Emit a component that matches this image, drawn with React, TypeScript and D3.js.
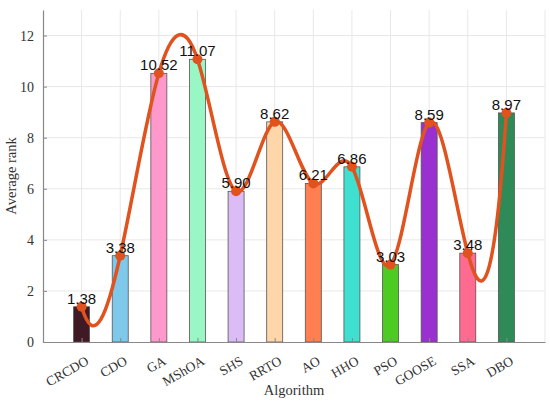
import { useEffect, useRef } from 'react';
import * as d3 from 'd3';

const algorithms = ['CRCDO', 'CDO', 'GA', 'MShOA', 'SHS', 'RRTO', 'AO', 'HHO', 'PSO', 'GOOSE', 'SSA', 'DBO'];
const avgRank = [1.38, 3.38, 10.52, 11.07, 5.9, 8.62, 6.21, 6.86, 3.03, 8.59, 3.48, 8.97];
const barColors = ['#3f1a24', '#7ec8ea', '#ff99cc', '#99f7c6', '#dcbcf7', '#ffd5aa', '#ff7f50', '#40e0d0', '#4ccb22', '#9b30d0', '#ff6b90', '#2e8b57'];
const yTicks = [0, 2, 4, 6, 8, 10, 12];

const serif = '"Liberation Serif", "Times New Roman", serif';

// not-a-knot cubic spline (like MATLAB's spline) as a d3 curve
function curveSplineNotAKnot(context: any) {
  let xs: number[] = [];
  let ys: number[] = [];
  return {
    areaStart() {},
    areaEnd() {},
    lineStart() { xs = []; ys = []; },
    point(x: number, y: number) { xs.push(+x); ys.push(+y); },
    lineEnd() {
      const n = xs.length;
      if (n === 0) return;
      context.moveTo(xs[0], ys[0]);
      if (n < 4) {
        for (let i = 1; i < n; i++) context.lineTo(xs[i], ys[i]);
        return;
      }
      const h = xs[1] - xs[0];
      // build system for second derivatives
      const A: number[][] = [];
      const b: number[] = [];
      const row0 = new Array(n).fill(0);
      row0[0] = 1; row0[1] = -2; row0[2] = 1;
      A.push(row0); b.push(0);
      for (let i = 1; i < n - 1; i++) {
        const r = new Array(n).fill(0);
        r[i - 1] = 1; r[i] = 4; r[i + 1] = 1;
        A.push(r);
        b.push((6 * (ys[i + 1] - 2 * ys[i] + ys[i - 1])) / (h * h));
      }
      const rowN = new Array(n).fill(0);
      rowN[n - 3] = 1; rowN[n - 2] = -2; rowN[n - 1] = 1;
      A.push(rowN); b.push(0);
      // gaussian elimination with partial pivoting
      for (let c = 0; c < n; c++) {
        let p = c;
        for (let r = c + 1; r < n; r++) if (Math.abs(A[r][c]) > Math.abs(A[p][c])) p = r;
        [A[c], A[p]] = [A[p], A[c]];
        [b[c], b[p]] = [b[p], b[c]];
        for (let r = c + 1; r < n; r++) {
          const f = A[r][c] / A[c][c];
          if (!f) continue;
          for (let k = c; k < n; k++) A[r][k] -= f * A[c][k];
          b[r] -= f * b[c];
        }
      }
      const M = new Array(n).fill(0);
      for (let r = n - 1; r >= 0; r--) {
        let s = b[r];
        for (let k = r + 1; k < n; k++) s -= A[r][k] * M[k];
        M[r] = s / A[r][r];
      }
      for (let i = 0; i < n - 1; i++) {
        const d = (ys[i + 1] - ys[i]) / h;
        const s0 = d - (h * (2 * M[i] + M[i + 1])) / 6;
        const s1 = d + (h * (M[i] + 2 * M[i + 1])) / 6;
        context.bezierCurveTo(
          xs[i] + h / 3, ys[i] + (h * s0) / 3,
          xs[i + 1] - h / 3, ys[i + 1] - (h * s1) / 3,
          xs[i + 1], ys[i + 1]
        );
      }
    },
  };
}

export default function App() {
  const svgRef = useRef<SVGSVGElement>(null);

  useEffect(() => {
    if (!svgRef.current) return;
    const width = 550;
    const height = 407;
    const margin = { top: 10, right: 5, bottom: 65, left: 43 };
    const innerWidth = width - margin.left - margin.right;
    const innerHeight = height - margin.top - margin.bottom;

    d3.select(svgRef.current).selectAll('*').remove();
    const svg = d3.select(svgRef.current).attr('width', width).attr('height', height);
    const g = svg.append('g').attr('transform', `translate(${margin.left},${margin.top})`);

    // categories sit at 1..12 on a 0..13 axis
    const xScale = d3.scaleLinear().domain([0, algorithms.length + 1]).range([0, innerWidth]);
    const yScale = d3.scaleLinear().domain([0, 13]).range([innerHeight, 0]);
    const xPos = (i: number) => xScale(i + 1);

    // gridlines
    g.append('g')
      .selectAll('line')
      .data(yTicks.slice(1))
      .join('line')
      .attr('x1', 0)
      .attr('x2', innerWidth)
      .attr('y1', d => yScale(d))
      .attr('y2', d => yScale(d))
      .attr('stroke', '#e8e8e8')
      .attr('stroke-width', 1);

    g.append('g')
      .selectAll('line')
      .data(d3.range(algorithms.length + 1))
      .join('line')
      .attr('x1', d => xPos(d))
      .attr('x2', d => xPos(d))
      .attr('y1', 0)
      .attr('y2', innerHeight)
      .attr('stroke', '#e8e8e8')
      .attr('stroke-width', 1);

    // bars
    const barWidth = 16;
    g.append('g')
      .selectAll('rect')
      .data(avgRank)
      .join('rect')
      .attr('x', (d, i) => xPos(i) - barWidth / 2)
      .attr('y', d => yScale(d))
      .attr('width', barWidth)
      .attr('height', d => innerHeight - yScale(d))
      .attr('fill', (d, i) => barColors[i])
      .attr('stroke', '#555')
      .attr('stroke-width', 0.8);

    // axes
    const xAxis = g.append('g')
      .attr('transform', `translate(0,${innerHeight})`)
      .call(d3.axisBottom(xScale)
        .tickValues(d3.range(1, algorithms.length + 1))
        .tickFormat(d => algorithms[(d as number) - 1])
        .tickSize(-4)
        .tickSizeOuter(0))
      .attr('font-family', serif);
    xAxis.select('.domain').attr('stroke', '#888').attr('stroke-width', 1.2);
    xAxis.selectAll('.tick line').attr('stroke', '#888');
    xAxis.selectAll('text')
      .style('font-family', serif)
      .style('font-size', '13.5px')
      .style('fill', '#333')
      .attr('text-anchor', 'end')
      .attr('dy', 0)
      .attr('transform', 'translate(6,19) rotate(-30)');

    const yAxis = g.append('g')
      .call(d3.axisLeft(yScale).tickValues(yTicks).tickSize(-4).tickSizeOuter(0).tickPadding(9))
      .attr('font-family', serif);
    yAxis.select('.domain').attr('stroke', '#888').attr('stroke-width', 1.2);
    yAxis.selectAll('.tick line').attr('stroke', '#888');
    yAxis.selectAll('text')
      .style('font-family', serif)
      .style('font-size', '14px')
      .style('fill', '#333');

    // axis labels
    g.append('text')
      .attr('x', innerWidth / 2)
      .attr('y', innerHeight + 53)
      .attr('text-anchor', 'middle')
      .style('font-family', serif)
      .style('font-size', '14.5px')
      .style('fill', '#333')
      .text('Algorithm');

    g.append('text')
      .attr('transform', 'rotate(-90)')
      .attr('x', -innerHeight / 2)
      .attr('y', -27)
      .attr('text-anchor', 'middle')
      .style('font-family', serif)
      .style('font-size', '14.5px')
      .style('fill', '#333')
      .text('Average rank');

    // smooth line through the ranks
    const line = d3.line<number>()
      .x((d, i) => xPos(i))
      .y(d => yScale(d))
      .curve(curveSplineNotAKnot as any);

    g.append('path')
      .datum(avgRank)
      .attr('fill', 'none')
      .attr('stroke', '#e0521e')
      .attr('stroke-width', 3.5)
      .attr('d', line);

    g.append('g')
      .selectAll('circle')
      .data(avgRank)
      .join('circle')
      .attr('cx', (d, i) => xPos(i))
      .attr('cy', d => yScale(d))
      .attr('r', 5)
      .attr('fill', '#e0521e');

    // value labels
    g.append('g')
      .selectAll('text')
      .data(avgRank)
      .join('text')
      .attr('x', (d, i) => xPos(i))
      .attr('y', d => yScale(d) - 3)
      .attr('text-anchor', 'middle')
      .style('font-family', '"Liberation Sans", Arial, sans-serif')
      .style('font-size', '15px')
      .style('fill', '#111')
      .text(d => d.toFixed(2));
  }, []);

  return (
    <div style={{ position: 'absolute', left: 0, top: 0 }}>
      <svg ref={svgRef}></svg>
    </div>
  );
}
